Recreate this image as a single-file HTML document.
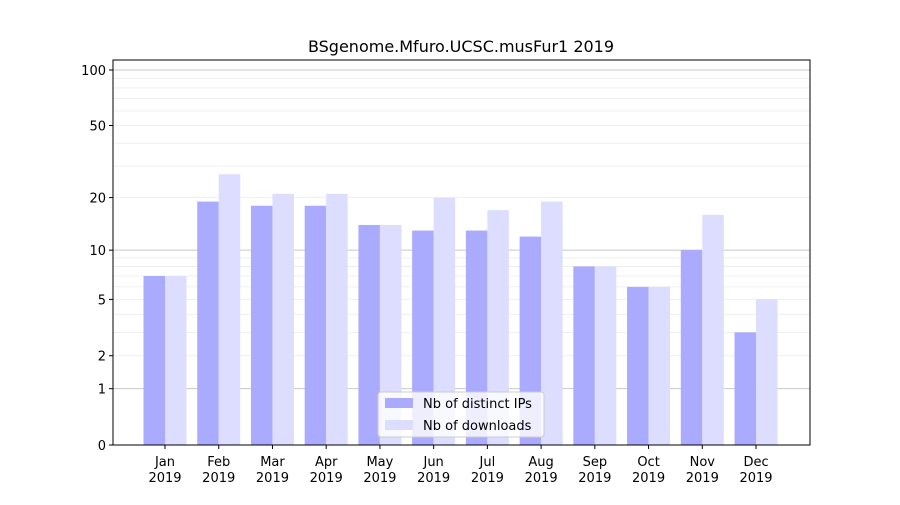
<!DOCTYPE html>
<html><head><meta charset="utf-8"><style>
body{margin:0;background:#fff;}
svg text{font-family:"DejaVu Sans","Liberation Sans",sans-serif;}
</style></head><body>
<svg id="chart" width="900" height="500">
<rect x="0" y="0" width="900" height="500" fill="#fff"/>
<text x="461" y="52" text-anchor="middle" font-size="16">BSgenome.Mfuro.UCSC.musFur1 2019</text>
<g id="grid"></g><g id="bars"></g><g id="axes"></g>
</svg>
<script>
const months=["Jan","Feb","Mar","Apr","May","Jun","Jul","Aug","Sep","Oct","Nov","Dec"];
const ips=[7,19,18,18,14,13,13,12,8,6,10,3];
const downloads=[7,27,21,21,14,20,17,19,8,6,16,5];
const yTicks=[0,1,2,5,10,20,50,100];
const NS="http://www.w3.org/2000/svg";
const L=113,R=810,T=60,B=445;
function y(v){return B-187.1*Math.log10(v+1);}
function x(i){return 165+i*53.73;}
function mk(tag,attrs,parent){const e=document.createElementNS(NS,tag);for(const k in attrs)e.setAttribute(k,attrs[k]);parent.appendChild(e);return e;}
const grid=document.getElementById('grid'),bars=document.getElementById('bars'),axes=document.getElementById('axes');
const minor=[];for(let d=1;d<=100;d*=10)for(let m=2;m<=9;m++){if(d*m<=110)minor.push(d*m);}
minor.forEach(v=>{const l=mk('line',{x1:L,x2:R,y1:y(v),y2:y(v),stroke:'#ebebeb','stroke-width':0.8},grid);

});
[1,10,100].forEach(v=>{const l=mk('line',{x1:L,x2:R,y1:y(v),y2:y(v),stroke:'#c8c8c8','stroke-width':1},grid);

});
months.forEach((m,i)=>{
 const b1=mk('rect',{x:x(i)-21.5,y:y(ips[i]),width:21.5,height:B-y(ips[i]),fill:'#aaaaff'},bars);
 
 
 const b2=mk('rect',{x:x(i),y:y(downloads[i]),width:21.5,height:B-y(downloads[i]),fill:'#ddddff'},bars);
 
 
 mk('line',{x1:x(i),x2:x(i),y1:B,y2:B+4,stroke:'#000'},axes);
 const t=mk('text',{x:x(i),y:B+21,'text-anchor':'middle','font-size':13},axes);
 
 
 t.textContent=m;
 const t2=mk('text',{x:x(i),y:B+37,'text-anchor':'middle','font-size':13},axes);
 
 
 t2.textContent='2019';
});
yTicks.forEach(v=>{
 mk('line',{x1:L-4,x2:L,y1:y(v),y2:y(v),stroke:'#000'},axes);
 const t=mk('text',{x:L-7,y:y(v)+5,'text-anchor':'end','font-size':13},axes);
 
 
 t.textContent=v;
});
const frame=mk('rect',{x:L,y:T,width:R-L,height:B-T,fill:'none',stroke:'#000','stroke-width':1},axes);


const lg=mk('g',{},axes);


mk('rect',{x:378,y:392,width:166,height:45,rx:3,fill:'#fff','fill-opacity':0.8,stroke:'#ccc'},lg);
mk('rect',{x:385,y:398,width:28,height:10,fill:'#aaaaff'},lg);
mk('rect',{x:385,y:420,width:28,height:10,fill:'#ddddff'},lg);
const l1=mk('text',{x:423,y:408,'font-size':13},lg);


l1.textContent='Nb of distinct IPs';
const l2=mk('text',{x:423,y:430,'font-size':13},lg);


l2.textContent='Nb of downloads';
</script>
</body></html>
